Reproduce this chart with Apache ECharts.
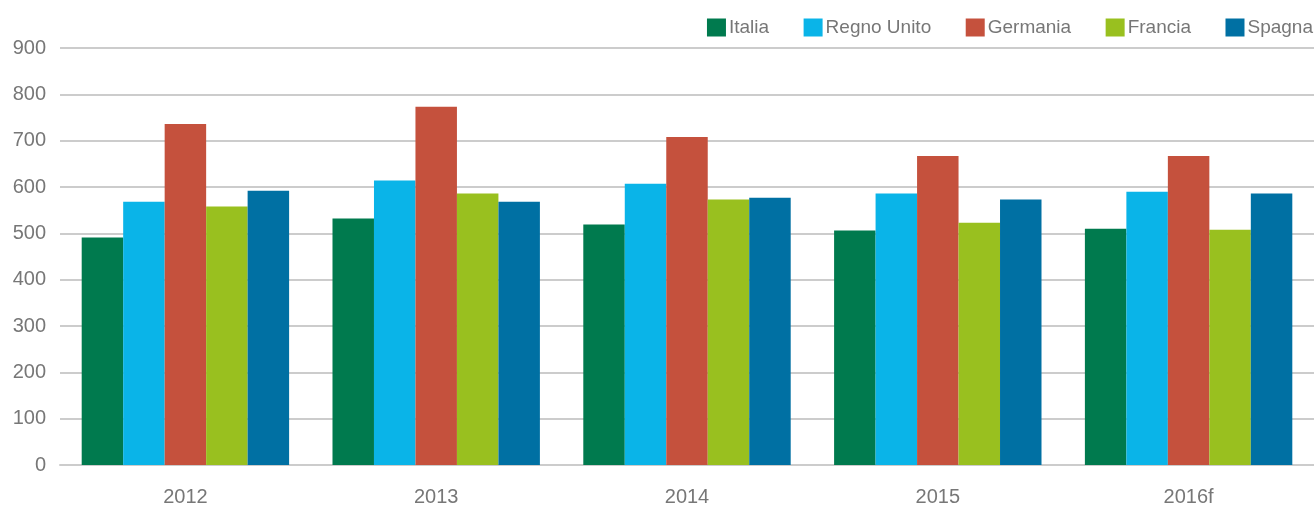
<!DOCTYPE html>
<html><head><meta charset="utf-8">
<script src="https://cdn.jsdelivr.net/npm/echarts@6/dist/echarts.min.js"></script>
<style>html,body{margin:0;padding:0;background:#fff}#c{width:1314px;height:507px}</style>
</head><body><div id="c"></div>
<script>
const categories = ['2012', '2013', '2014', '2015', '2016f'];
const seriesNames = ['Italia', 'Regno Unito', 'Germania', 'Francia', 'Spagna'];
const italia = [491, 532, 519, 506, 510];
const regnoUnito = [568, 614, 607, 586, 590];
const germania = [736, 773, 708, 667, 667];
const francia = [558, 586, 573, 523, 508];
const spagna = [592, 568, 577, 573, 586];
const colors = ['#007A4E', '#0AB4E8', '#C5513D', '#99C01F', '#0070A3'];
const values = [italia, regnoUnito, germania, francia, spagna];

const chart = echarts.init(document.getElementById('c'), null, {renderer: 'canvas'});
chart.setOption({
  animation: false,
  color: colors,
  textStyle: {fontFamily: 'Liberation Sans, Arial, sans-serif'},
  legend: {
    top: 18, right: 1, padding: 0, itemWidth: 19, itemHeight: 18, itemGap: 34.5,
    icon: 'rect',
    textStyle: {color: '#777', fontSize: 19, padding: [2, 0, 0, -2]},
    data: seriesNames
  },
  grid: {left: 60, right: 0, top: 48, bottom: 41},
  xAxis: {
    type: 'category', data: categories,
    axisLine: {lineStyle: {color: '#ccc', width: 2}},
    axisTick: {show: false},
    axisLabel: {color: '#777', fontSize: 20, margin: 22}
  },
  yAxis: {
    type: 'value', min: 0, max: 900, interval: 100,
    axisLine: {show: false}, axisTick: {show: false},
    splitLine: {lineStyle: {color: '#ccc', width: 2}},
    axisLabel: {color: '#777', fontSize: 20, margin: 14}
  },
  series: seriesNames.map((n, i) => ({
    name: n, type: 'bar', data: values[i],
    barGap: '0%', barCategoryGap: '17.3%'
  }))
});
</script></body></html>
